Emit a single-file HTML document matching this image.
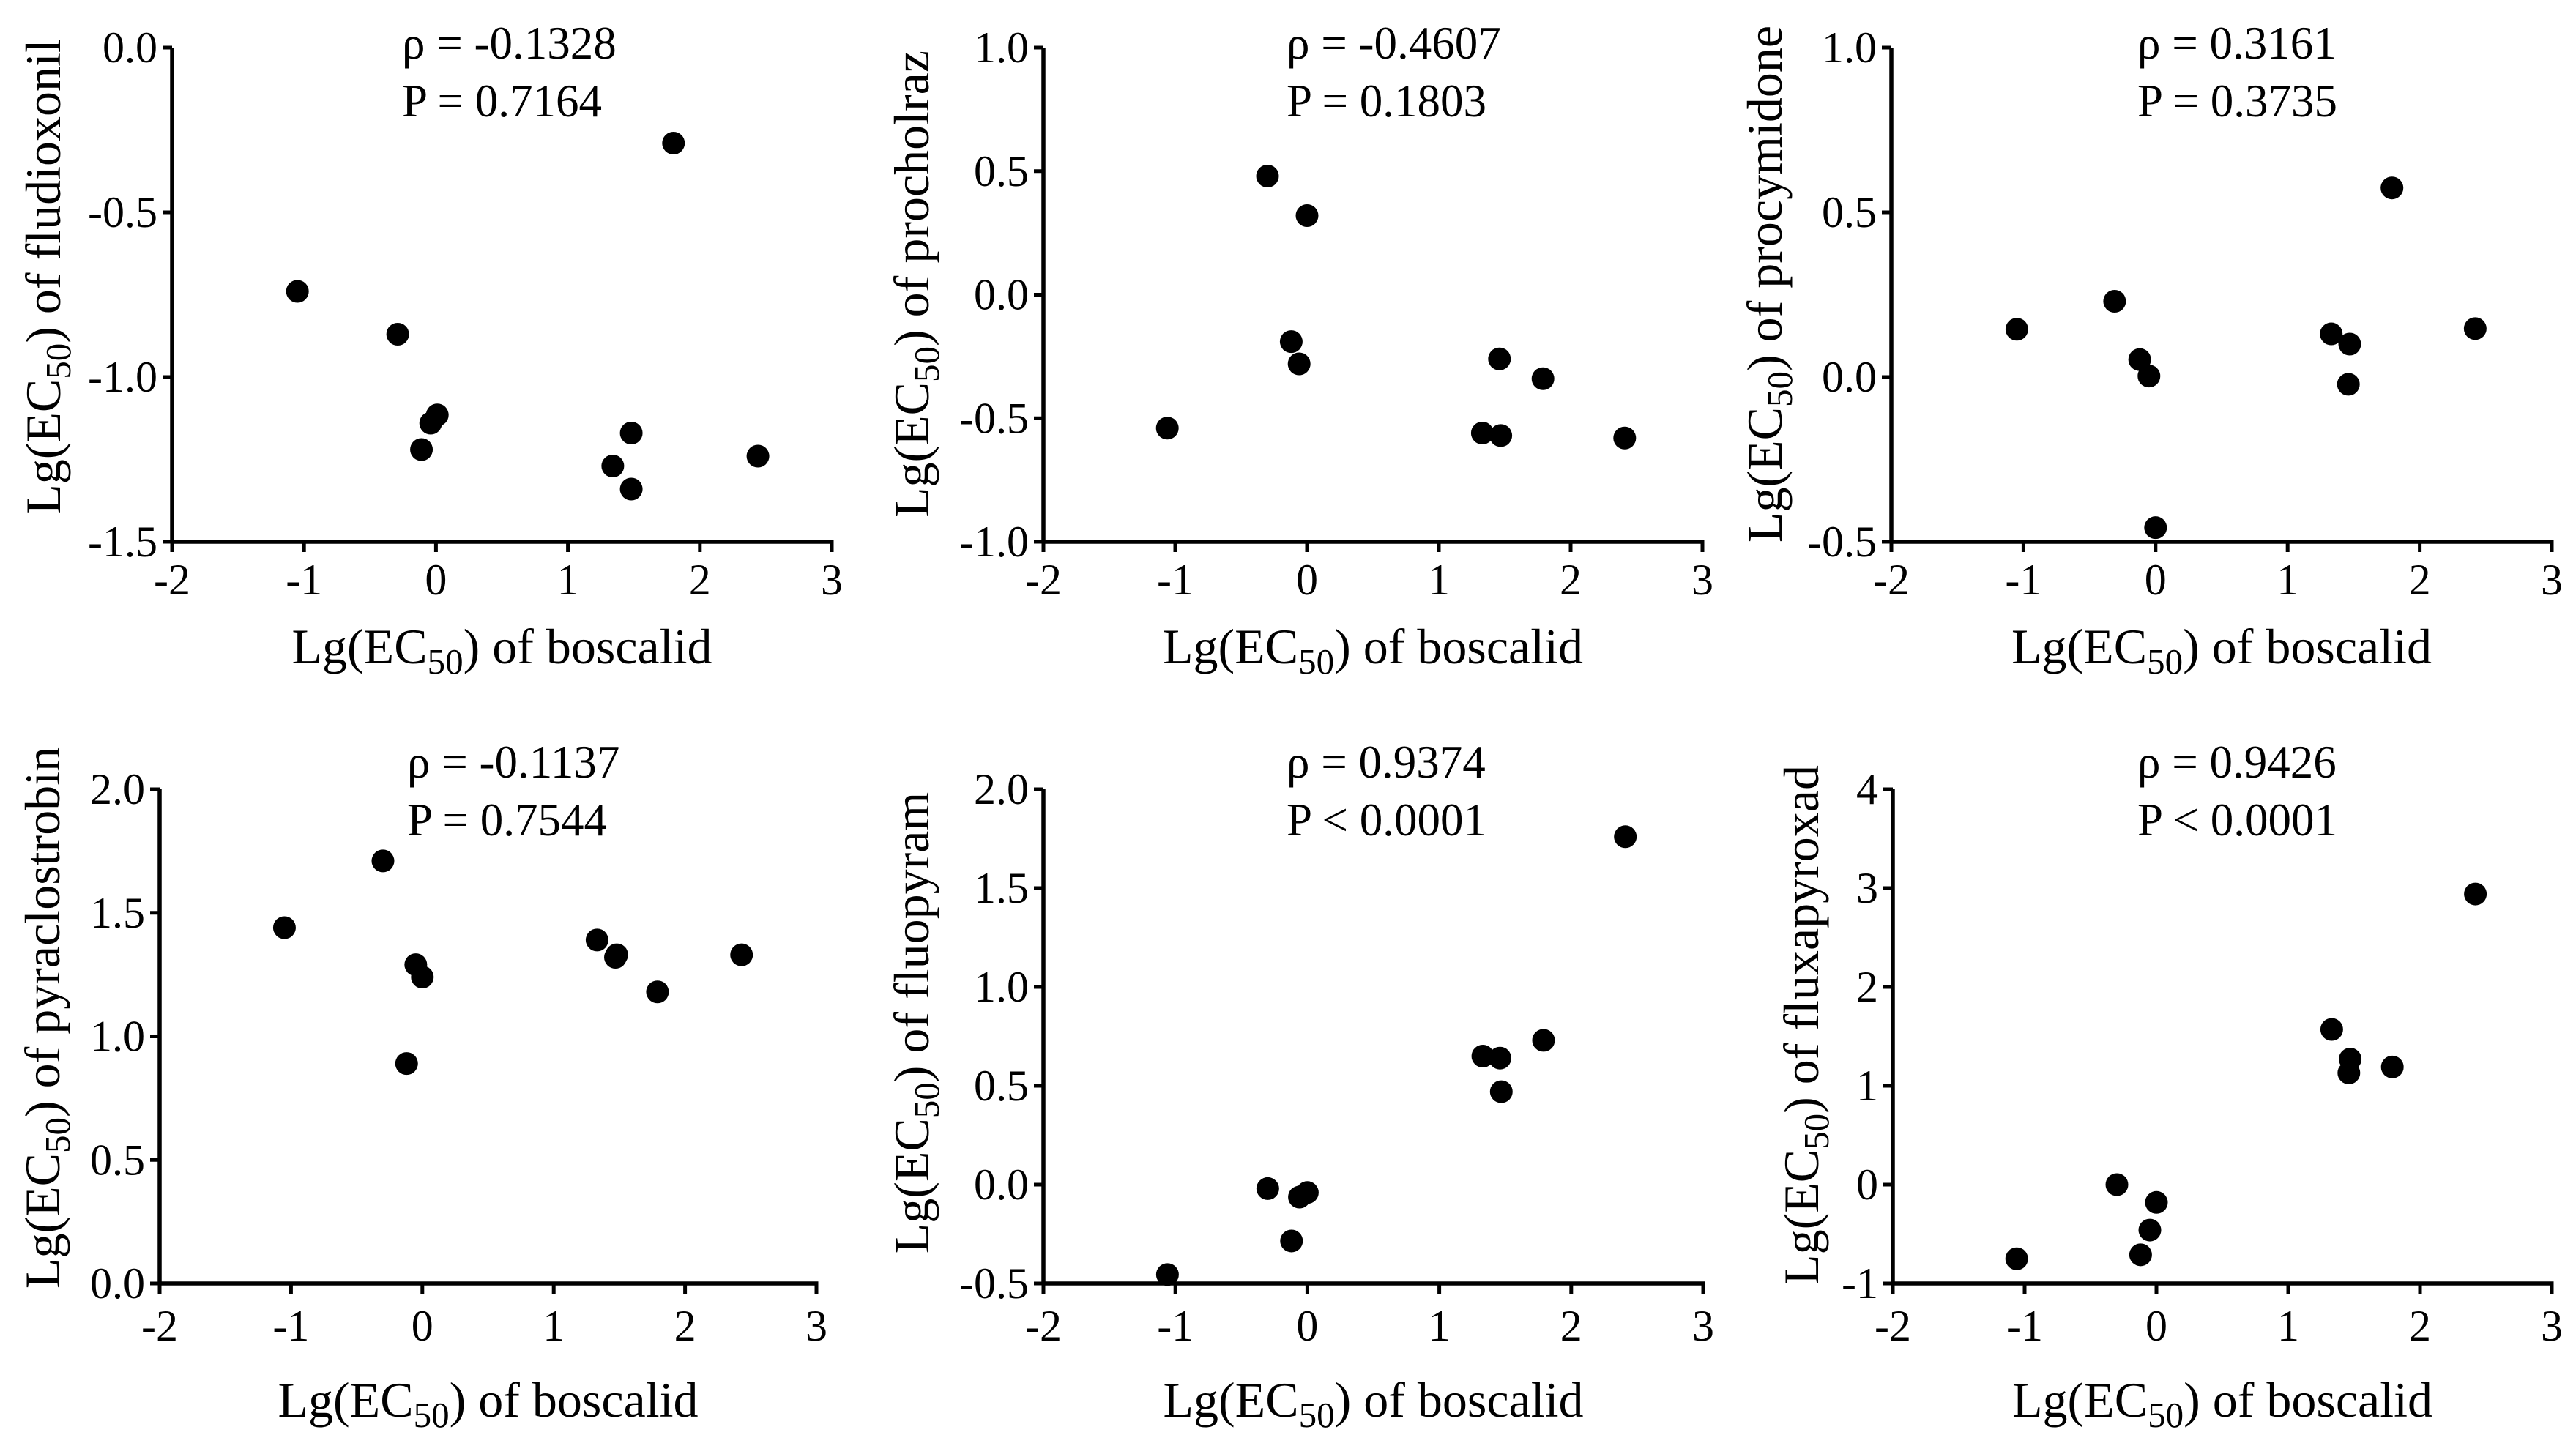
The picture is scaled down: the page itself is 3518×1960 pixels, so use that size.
<!DOCTYPE html>
<html><head><meta charset="utf-8"><style>
html,body{margin:0;padding:0;background:#fff;}
svg, svg text{font-family:"Liberation Serif","DejaVu Serif",serif;}
</style></head><body>
<svg id="fig" width="3518" height="1955" viewBox="0 0 3518 1955" font-family="Liberation Serif, DejaVu Serif, serif" xmlns="http://www.w3.org/2000/svg"></svg>
<script>
// shared x axis ticks
const xTicks = [-2, -1, 0, 1, 2, 3];
// panel 1 fludioxonil
const xFlu = [-1.05, -0.29, -0.11, -0.04, 0.01, 1.34, 1.48, 1.48, 1.80, 2.44];
const yFlu = [-0.74, -0.87, -1.22, -1.14, -1.115, -1.27, -1.17, -1.34, -0.29, -1.24];
const tFlu = [-1.5, -1.0, -0.5, 0.0];
// panel 2 procholraz
const xPro = [-0.30, 0.0, -0.12, -0.06, -1.06, 1.46, 1.79, 1.33, 1.47, 2.41];
const yPro = [0.48, 0.32, -0.19, -0.28, -0.54, -0.26, -0.34, -0.56, -0.57, -0.58];
const tPro = [-1.0, -0.5, 0.0, 0.5, 1.0];
// panel 3 procymidone
const xPcy = [-1.05, -0.31, -0.12, -0.05, 0.0, 1.33, 1.47, 1.46, 1.79, 2.42];
const yPcy = [0.145, 0.23, 0.053, 0.003, -0.457, 0.131, 0.10, -0.022, 0.574, 0.147];
const tPcy = [-0.5, 0.0, 0.5, 1.0];
// panel 4 pyraclostrobin
const xPyr = [-1.05, -0.30, -0.12, -0.05, 0.0, 1.33, 1.47, 1.48, 1.79, 2.43];
const yPyr = [1.44, 1.71, 0.89, 1.29, 1.24, 1.39, 1.32, 1.33, 1.18, 1.33];
const tPyr = [0.0, 0.5, 1.0, 1.5, 2.0];
// panel 5 fluopyram
const xFlp = [-1.06, -0.30, -0.12, -0.06, 0.0, 1.33, 1.46, 1.47, 1.79, 2.41];
const yFlp = [-0.455, -0.02, -0.285, -0.063, -0.04, 0.65, 0.64, 0.47, 0.73, 1.76];
const tFlp = [-0.5, 0.0, 0.5, 1.0, 1.5, 2.0];
// panel 6 fluxapyroxad
const xFlx = [-1.06, -0.30, -0.12, -0.05, 0.0, 1.33, 1.47, 1.46, 1.79, 2.42];
const yFlx = [-0.75, 0.0, -0.71, -0.46, -0.18, 1.57, 1.27, 1.13, 1.19, 2.94];
const tFlx = [-1, 0, 1, 2, 3, 4];
const rhoText = ["ρ = -0.1328","ρ = -0.4607","ρ = 0.3161","ρ = -0.1137","ρ = 0.9374","ρ = 0.9426"];
const pText = ["P = 0.7164","P = 0.1803","P = 0.3735","P = 0.7544","P < 0.0001","P < 0.0001"];
const yNames = ["fludioxonil","procholraz","procymidone","pyraclostrobin","fluopyram","fluxapyroxad"];

const NS = "http://www.w3.org/2000/svg";
const FONT = '"Liberation Serif", "DejaVu Serif", serif';
const svg = document.getElementById('fig');
function mk(tag, attrs, parent){ const e=document.createElementNS(NS,tag); for(const k in attrs) e.setAttribute(k,attrs[k]); if(tag==='text') e.style.fontFamily=FONT; (parent||svg).appendChild(e); return e; }

const panels = [
 {xs:xFlu, ys:yFlu, ticks:tFlu, dec:1, x0:235, x1:1136, yt:65, yb:740, tx:82, ty:378, ax:549, ab:80, xb:812, xt:906},
 {xs:xPro, ys:yPro, ticks:tPro, dec:1, x0:1425, x1:2325, yt:65, yb:740, tx:1268, ty:388, ax:1757, ab:80, xb:812, xt:906},
 {xs:xPcy, ys:yPcy, ticks:tPcy, dec:1, x0:2583, x1:3485, yt:65, yb:740, tx:2433, ty:388, ax:2919, ab:80, xb:812, xt:906},
 {xs:xPyr, ys:yPyr, ticks:tPyr, dec:1, x0:218, x1:1115, yt:1078, yb:1753, tx:81, ty:1390, ax:556, ab:1062, xb:1831, xt:1935},
 {xs:xFlp, ys:yFlp, ticks:tFlp, dec:1, x0:1425, x1:2326, yt:1078, yb:1753, tx:1268, ty:1397, ax:1757, ab:1062, xb:1831, xt:1935},
 {xs:xFlx, ys:yFlx, ticks:tFlx, dec:0, x0:2585, x1:3485, yt:1078, yb:1753, tx:2483, ty:1400, ax:2919, ab:1062, xb:1831, xt:1935}
];

panels.forEach((p, i) => {
  const g = mk('g', {});
  
  
  const xmin = xTicks[0], xmax = xTicks[xTicks.length-1];
  const ymin = p.ticks[0], ymax = p.ticks[p.ticks.length-1];
  const sx = v => p.x0 + (v - xmin) / (xmax - xmin) * (p.x1 - p.x0);
  const sy = v => p.yb - (v - ymin) / (ymax - ymin) * (p.yb - p.yt);
  const ya = mk('line', {x1:p.x0, y1:p.yt, x2:p.x0, y2:p.yb+2.5, stroke:'#000','stroke-width':5.5}, g);
  
  
  const xa = mk('line', {x1:p.x0-2.5, y1:p.yb, x2:p.x1+2.5, y2:p.yb, stroke:'#000','stroke-width':5.5}, g);
  
  
  p.ticks.forEach(t => {
    const y = sy(t);
    mk('line', {x1:p.x0-13, y1:y, x2:p.x0, y2:y, stroke:'#000','stroke-width':5}, g);
    const lb = mk('text', {x:p.x0-20, y:y+20, 'font-size':60, 'text-anchor':'end'}, g);
    lb.textContent = t.toFixed(p.dec);
    
    
  });
  xTicks.forEach(t => {
    const x = sx(t);
    mk('line', {x1:x, y1:p.yb, x2:x, y2:p.yb+14, stroke:'#000','stroke-width':5}, g);
    const lb = mk('text', {x:x, y:p.xb, 'font-size':60, 'text-anchor':'middle'}, g);
    lb.textContent = String(t);
    
    
  });
  p.xs.forEach((xv, k) => {
    const c = mk('circle', {cx:sx(xv), cy:sy(p.ys[k]), r:15.5, fill:'#000'}, g);
    
    
  });
  const xt = mk('text', {x:(p.x0+p.x1)/2, y:p.xt, 'font-size':68, 'text-anchor':'middle'}, g);
  xt.innerHTML = 'Lg(EC<tspan font-size="49" dy="14">50</tspan><tspan dy="-14">) of boscalid</tspan>';
  
  
  const yt = mk('text', {x:0, y:0, 'font-size':68, 'text-anchor':'middle', transform:'translate('+p.tx+','+p.ty+') rotate(-90)'}, g);
  yt.innerHTML = 'Lg(EC<tspan font-size="49" dy="14">50</tspan><tspan dy="-14">) of ' + yNames[i] + '</tspan>';
  
  
  const a1 = mk('text', {x:p.ax, y:p.ab, 'font-size':63}, g);
  a1.textContent = rhoText[i];
  
  
  const a2 = mk('text', {x:p.ax, y:p.ab+79, 'font-size':63}, g);
  a2.textContent = pText[i];
  
  
});
</script>
</body></html>
